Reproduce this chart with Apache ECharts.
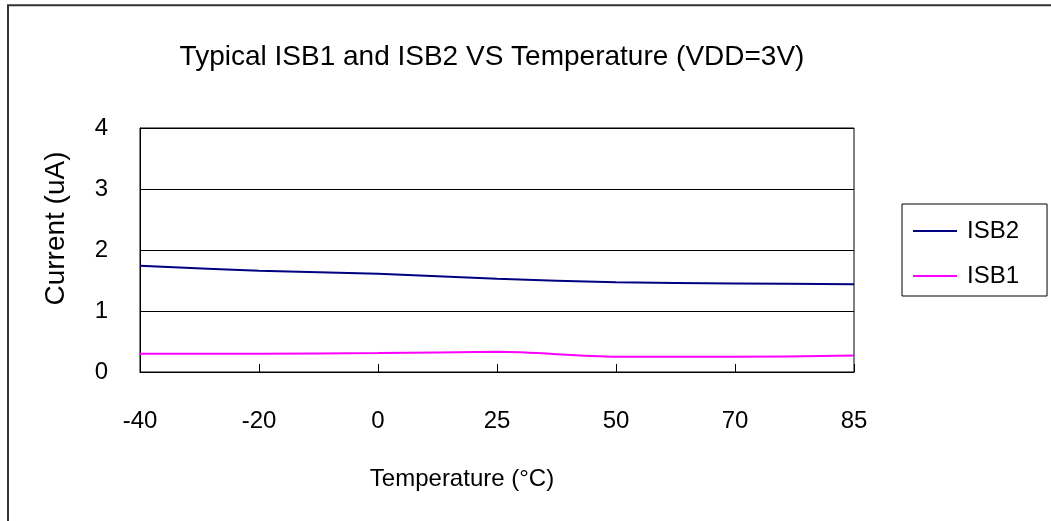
<!DOCTYPE html>
<html>
<head>
<meta charset="utf-8">
<script src="https://cdn.jsdelivr.net/npm/echarts@6/dist/echarts.min.js"></script>
<style>
html,body{margin:0;padding:0;background:#fff;}
#c{width:1051px;height:521px;}
</style>
</head>
<body>
<div id="c"></div>
<script>
var categories = ['-40', '-20', '0', '25', '50', '70', '85'];
var isb2 = [1.74, 1.66, 1.61, 1.53, 1.47, 1.45, 1.44];
var isb1 = [0.30, 0.30, 0.31, 0.33, 0.25, 0.25, 0.27];
var yTicks = {min: 0, max: 4, interval: 1};

var FONT = '"Liberation Sans", Arial, sans-serif';
var chart = echarts.init(document.getElementById('c'), null, {renderer: 'canvas'});
chart.setOption({
  backgroundColor: '#fff',
  animation: false,
  graphic: [{
    type: 'rect', silent: true,
    shape: {x: 8, y: 5.3, width: 1100, height: 600},
    style: {fill: 'none', stroke: '#333', lineWidth: 2}
  }],
  title: {
    text: 'Typical ISB1 and ISB2 VS Temperature (VDD=3V)',
    left: 487, top: 38, textAlign: 'center',
    textStyle: {fontFamily: FONT, fontSize: 28, fontWeight: 'normal', color: '#000'}
  },
  legend: {
    orient: 'vertical', left: 902, top: 204,
    data: ['ISB2', 'ISB1'],
    icon: 'rect', itemWidth: 44, itemHeight: 2, itemGap: 21,
    padding: [15, 28, 8, 11],
    borderColor: '#000', borderWidth: 1,
    textStyle: {fontFamily: FONT, fontSize: 24, color: '#000', padding: [0, 0, 0, 5]}
  },
  grid: {left: 140, right: 197, top: 128, bottom: 149, show: true, borderColor: '#000', borderWidth: 1},
  xAxis: {
    type: 'category', data: categories, boundaryGap: false,
    name: 'Temperature (°C)', nameLocation: 'middle', nameGap: 95,
    nameTextStyle: {fontFamily: FONT, fontSize: 24, color: '#000', padding: [0, 70, 0, 0]},
    axisLine: {lineStyle: {color: '#000', width: 1}},
    axisTick: {inside: true, length: 8, lineStyle: {color: '#000'}},
    axisLabel: {fontFamily: FONT, fontSize: 24, color: '#000', margin: 37},
    splitLine: {show: false}
  },
  yAxis: {
    type: 'value', min: yTicks.min, max: yTicks.max, interval: yTicks.interval,
    name: 'Current (uA)', nameLocation: 'middle', nameGap: 70,
    nameTextStyle: {fontFamily: FONT, fontSize: 28, color: '#000', padding: [0, 0, 0, 43]},
    axisLine: {show: true, lineStyle: {color: '#000', width: 1}},
    axisTick: {show: true, inside: true, length: 8, lineStyle: {color: '#000'}},
    axisLabel: {fontFamily: FONT, fontSize: 24, color: '#000', margin: 32, padding: [4, 0, 0, 0]},
    splitLine: {show: true, lineStyle: {color: '#000', width: 1}}
  },
  series: [
    {name: 'ISB2', type: 'line', data: isb2, smooth: 0.3, symbol: 'none',
     lineStyle: {color: '#000080', width: 2}, itemStyle: {color: '#000080'}},
    {name: 'ISB1', type: 'line', data: isb1, smooth: 0.3, symbol: 'none',
     lineStyle: {color: '#FF00FF', width: 2}, itemStyle: {color: '#FF00FF'}}
  ]
});
</script>
</body>
</html>
